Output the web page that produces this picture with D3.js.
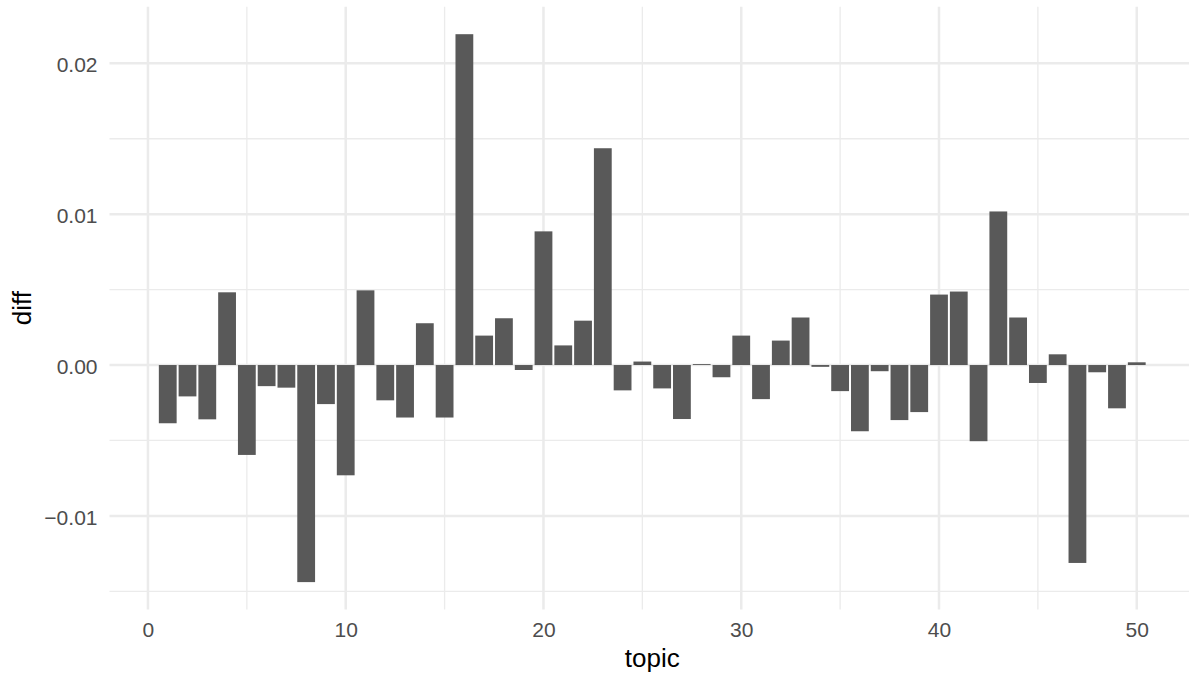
<!DOCTYPE html>
<html>
<head>
<meta charset="utf-8">
<script src="https://cdn.jsdelivr.net/npm/d3@7"></script>
<style>
  body { margin: 0; background: #fff; }
  svg text { font-family: "Liberation Sans", Arial, Helvetica, sans-serif; }
</style>
</head>
<body>
<div id="chart"></div>
<script>
// topic 1..50 and the difference
const topics = d3.range(1, 51);
const diffs = [
  -0.00386, -0.00208, -0.00360, 0.00482, -0.00596, -0.00140, -0.00150, -0.01439, -0.00259, -0.00731,
   0.00495, -0.00234, -0.00348, 0.00277, -0.00348, 0.02193, 0.00195, 0.00310, -0.00033, 0.00886,
   0.00130, 0.00294, 0.01437, -0.00168, 0.00023, -0.00155, -0.00358, 0.00006, -0.00081, 0.00195,
  -0.00226, 0.00162, 0.00315, -0.00012, -0.00173, -0.00439, -0.00041, -0.00365, -0.00312, 0.00467,
   0.00487, -0.00505, 0.01018, 0.00315, -0.00119, 0.00071, -0.01312, -0.00048, -0.00287, 0.00018
];
const xTicks = [0, 10, 20, 30, 40, 50];
const xMinor = [5, 15, 25, 35, 45];
const yTicks = [-0.01, 0, 0.01, 0.02];
const yMinor = [-0.015, -0.005, 0.005, 0.015];

const data = topics.map((t, i) => ({topic: t, diff: diffs[i]}));

const width = 1189, height = 673;
const panel = {left: 109.5, right: 1195, top: 6.8, bottom: 609.5};
const barWidth = 0.9;

// ggplot-like 5% expansion
const xlo = d3.min(topics) - barWidth / 2, xhi = d3.max(topics) + barWidth / 2;
const xpad = (xhi - xlo) * 0.05;
const ylo = Math.min(0, d3.min(diffs)), yhi = Math.max(0, d3.max(diffs));
const ypad = (yhi - ylo) * 0.05;

const x = d3.scaleLinear()
  .domain([xlo - xpad, xhi + xpad])
  .range([panel.left, panel.right]);
const y = d3.scaleLinear()
  .domain([ylo - ypad, yhi + ypad])
  .range([panel.bottom, panel.top]);

const svg = d3.select("#chart").append("svg")
  .attr("width", width)
  .attr("height", height);

// grid
const grid = svg.append("g");
grid.selectAll("line.ymin").data(yMinor).enter().append("line")
  .attr("x1", panel.left).attr("x2", panel.right)
  .attr("y1", d => y(d)).attr("y2", d => y(d))
  .attr("stroke", "#ebebeb").attr("stroke-width", 1.3);
grid.selectAll("line.xmin").data(xMinor).enter().append("line")
  .attr("y1", panel.top).attr("y2", panel.bottom)
  .attr("x1", d => x(d)).attr("x2", d => x(d))
  .attr("stroke", "#ebebeb").attr("stroke-width", 1.3);
grid.selectAll("line.ymaj").data(yTicks).enter().append("line")
  .attr("x1", panel.left).attr("x2", panel.right)
  .attr("y1", d => y(d)).attr("y2", d => y(d))
  .attr("stroke", "#ebebeb").attr("stroke-width", 2.5);
grid.selectAll("line.xmaj").data(xTicks).enter().append("line")
  .attr("y1", panel.top).attr("y2", panel.bottom)
  .attr("x1", d => x(d)).attr("x2", d => x(d))
  .attr("stroke", "#ebebeb").attr("stroke-width", 2.5);

// bars
svg.append("g").selectAll("rect").data(data).enter().append("rect")
  .attr("x", d => x(d.topic - barWidth / 2))
  .attr("width", d => x(d.topic + barWidth / 2) - x(d.topic - barWidth / 2))
  .attr("y", d => y(Math.max(0, d.diff)))
  .attr("height", d => Math.abs(y(d.diff) - y(0)))
  .attr("fill", "#595959");

// axes
const fmtY = d => (d < 0 ? "\u2212" : "") + Math.abs(d).toFixed(2);

const xAxis = svg.append("g")
  .attr("transform", "translate(0," + panel.bottom + ")")
  .call(d3.axisBottom(x).tickValues(xTicks).tickSize(0).tickPadding(12.6));
const yAxis = svg.append("g")
  .attr("transform", "translate(" + panel.left + ",0)")
  .call(d3.axisLeft(y).tickValues(yTicks).tickFormat(fmtY).tickSize(0).tickPadding(12));

[xAxis, yAxis].forEach(a => {
  a.select(".domain").remove();
  a.selectAll("text")
    .attr("fill", "#4d4d4d")
    .style("font-size", "21px")
    .style("font-family", "'Liberation Sans', Arial, sans-serif");
});
yAxis.selectAll("text").attr("dy", "0.4em");

// axis titles
svg.append("text")
  .attr("x", (panel.left + panel.right) / 2)
  .attr("y", 667)
  .attr("text-anchor", "middle")
  .style("font-size", "26px")
  .attr("fill", "#000")
  .text("topic");

svg.append("text")
  .attr("transform", "translate(31," + (panel.top + panel.bottom) / 2 + ") rotate(-90)")
  .attr("text-anchor", "middle")
  .style("font-size", "26px")
  .attr("fill", "#000")
  .text("diff");
</script>
</body>
</html>
